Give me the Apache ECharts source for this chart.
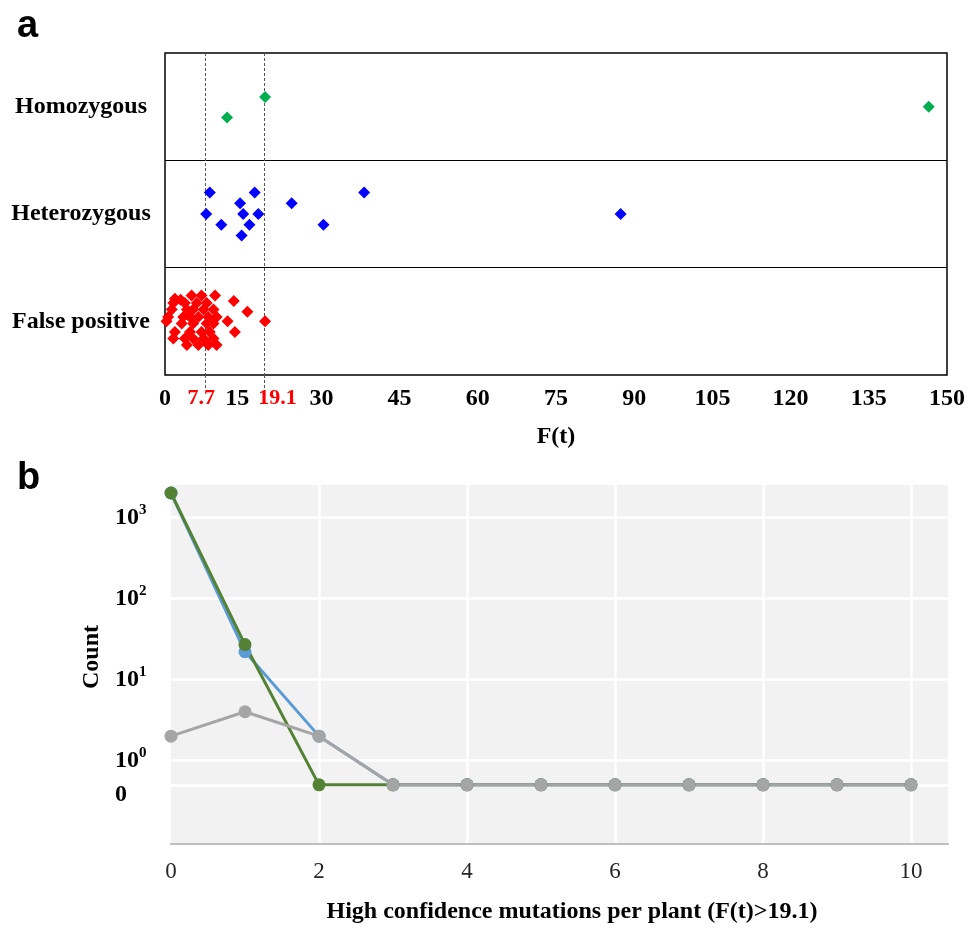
<!DOCTYPE html>
<html>
<head>
<meta charset="utf-8">
<script src="https://cdn.jsdelivr.net/npm/echarts@6/dist/echarts.min.js"></script>
<title>F(t) calls and high confidence mutations</title>
<style>html,body{margin:0;padding:0;background:#fff;}</style>
</head>
<body>
<div id="main" style="width:973px;height:929px;"></div>
<script type="text/javascript">
// panel a: [F(t), row position with jitter]
var homozygous = [[11.9, 2.40], [19.2, 2.59], [146.5, 2.50]];
var heterozygous = [
  [8.6, 1.70], [17.2, 1.70], [38.2, 1.70],
  [14.4, 1.60], [24.3, 1.60],
  [7.9, 1.50], [15.0, 1.50], [17.9, 1.50], [87.4, 1.50],
  [10.8, 1.40], [16.2, 1.40], [30.4, 1.40],
  [14.7, 1.30]
];
var falsePositive = [
  [5.1, 0.74], [7.0, 0.74], [9.6, 0.74], [1.9, 0.71], [3.0, 0.70],
  [1.6, 0.67], [3.8, 0.67], [6.1, 0.67], [8.0, 0.67],
  [1.3, 0.61], [4.2, 0.61], [5.4, 0.61], [7.4, 0.61], [9.3, 0.61],
  [0.6, 0.54], [3.5, 0.54], [4.8, 0.54], [6.4, 0.54], [8.3, 0.54], [9.9, 0.54],
  [0.3, 0.50], [3.2, 0.48], [5.4, 0.48], [8.0, 0.48], [9.3, 0.48],
  [1.9, 0.40], [4.8, 0.40], [7.0, 0.40], [8.6, 0.40],
  [1.6, 0.34], [3.8, 0.34], [5.4, 0.34], [7.4, 0.34], [9.3, 0.34],
  [4.2, 0.28], [6.4, 0.28], [8.3, 0.28], [9.9, 0.28],
  [13.2, 0.69], [15.8, 0.59], [12.0, 0.50], [13.4, 0.40], [19.2, 0.50]
];
var rowNames = ['False positive', 'Heterozygous', 'Homozygous'];
var ftTicks = [0, 7.7, 15, 19.1, 30, 45, 60, 75, 90, 105, 120, 135, 150];
var cutoffs = [7.7, 19.1];

// panel b: counts per number of high confidence mutations
var mutationsPerPlant = [0, 1, 2, 3, 4, 5, 6, 7, 8, 9, 10];
var countsBlue = [2000, 22, 2, 0, 0, 0, 0, 0, 0, 0, 0];
var countsGreen = [2000, 27, 0, 0, 0, 0, 0, 0, 0, 0, 0];
var countsGray = [2, 4, 2, 0, 0, 0, 0, 0, 0, 0, 0];
var countTicks = [-0.3, 0, 1, 2, 3]; // -0.3 is where zero is drawn

var serif = 'Liberation Serif';

function toPos(c) {
  return c > 0 ? Math.log10(c) : -0.3;
}
function linePoints(counts) {
  return mutationsPerPlant.map(function (m, i) { return [m, toPos(counts[i])]; });
}

var myChart = echarts.init(document.getElementById('main'));

var option = {
  animation: false,
  backgroundColor: '#fff',
  title: [
    { text: 'a', left: 12, top: 3, textStyle: { fontFamily: 'Liberation Sans', fontWeight: 'bold', fontSize: 38, color: '#000' } },
    { text: 'b', left: 12, top: 455, textStyle: { fontFamily: 'Liberation Sans', fontWeight: 'bold', fontSize: 38, color: '#000' } }
  ],
  grid: [
    { left: 165, right: 26, top: 53, bottom: 554, show: true, borderColor: '#000', borderWidth: 1.5, backgroundColor: '#fff', outerBoundsMode: 'none' },
    { left: 171, right: 25, top: 485, bottom: 85, show: true, borderWidth: 0, backgroundColor: '#F2F2F2', outerBoundsMode: 'none' }
  ],
  xAxis: [
    {
      gridIndex: 0, type: 'value', min: 0, max: 150,
      name: 'F(t)', nameLocation: 'middle', nameGap: 50,
      nameTextStyle: { fontFamily: serif, fontWeight: 'bold', fontSize: 24, color: '#000' },
      axisLine: { show: false, onZero: false },
      axisTick: { show: true, customValues: cutoffs, length: 13, lineStyle: { color: '#555', type: [3, 2], width: 1 } },
      splitLine: { show: true, lineStyle: { color: '#555', type: [3, 2], width: 1 } },
      axisLabel: {
        customValues: ftTicks, margin: 12, hideOverlap: false,
        fontFamily: serif, fontWeight: 'bold', fontSize: 24, color: '#000',
        formatter: function (v) {
          if (v === 7.7) return '{r77|7.7}';
          if (v === 19.1) return '{r19|19.1}';
          if (v === 15) return '{k15|15}';
          return '{k|' + v + '}';
        },
        rich: {
          k: { fontFamily: serif, fontWeight: 'bold', fontSize: 24, color: '#000' },
          k15: { fontFamily: serif, fontWeight: 'bold', fontSize: 24, color: '#000', padding: [0, 12, 0, 0] },
          r77: { fontFamily: serif, fontWeight: 'bold', fontSize: 22, color: '#FF0000', padding: [0, 8, 0, 0] },
          r19: { fontFamily: serif, fontWeight: 'bold', fontSize: 22, color: '#FF0000', padding: [0, 0, 0, 26] }
        }
      }
    },
    {
      gridIndex: 1, type: 'value', min: 0, max: 10.5,
      name: 'High confidence mutations per plant (F(t)>19.1)', nameLocation: 'middle', nameGap: 56,
      nameTextStyle: { fontFamily: serif, fontWeight: 'bold', fontSize: 24, color: '#000', padding: [0, 0, 0, 25] },
      axisLine: { show: true, onZero: false, lineStyle: { color: '#BFBFBF', width: 2 } },
      axisTick: { show: false, customValues: [2, 4, 6, 8, 10] },
      splitLine: { show: true, lineStyle: { color: '#fff', width: 2.5 } },
      axisLabel: {
        customValues: [0, 2, 4, 6, 8, 10], margin: 16,
        fontFamily: serif, fontSize: 23, color: '#262626'
      }
    }
  ],
  yAxis: [
    {
      gridIndex: 0, type: 'value', min: 0, max: 3,
      axisLine: { show: false },
      axisTick: { show: false, customValues: [1, 2] },
      splitLine: { show: true, lineStyle: { color: '#000', width: 1.2 } },
      axisLabel: {
        customValues: [0.5, 1.5, 2.5], margin: 84, align: 'center',
        fontFamily: serif, fontWeight: 'bold', fontSize: 24, color: '#000',
        formatter: function (v) { return rowNames[Math.floor(v)]; }
      }
    },
    {
      gridIndex: 1, type: 'value', min: -1.03, max: 3.4,
      name: 'Count', nameLocation: 'middle', nameGap: 64, nameRotate: 90,
      nameTextStyle: { fontFamily: serif, fontWeight: 'bold', fontSize: 24, color: '#000', padding: [0, 0, 0, 15] },
      axisLine: { show: false },
      axisTick: { show: false, customValues: countTicks },
      splitLine: { show: true, lineStyle: { color: '#fff', width: 2.5 } },
      axisLabel: {
        customValues: countTicks, margin: 56, align: 'left',
        fontFamily: serif, fontWeight: 'bold', fontSize: 24, color: '#000',
        formatter: function (v) {
          if (v < 0) return '{z|0}';
          return '{b|10}{s|' + v + '}';
        },
        rich: {
          b: { fontFamily: serif, fontWeight: 'bold', fontSize: 24, color: '#000' },
          s: { fontFamily: serif, fontWeight: 'bold', fontSize: 15, color: '#000', padding: [0, 0, 14, 0] },
          z: { fontFamily: serif, fontWeight: 'bold', fontSize: 24, color: '#000', padding: [20, 0, 0, 0] }
        }
      }
    }
  ],
  series: [
    { name: 'Homozygous', type: 'scatter', xAxisIndex: 0, yAxisIndex: 0, symbol: 'diamond', symbolSize: 12, itemStyle: { color: '#00B050', opacity: 1 }, data: homozygous },
    { name: 'Heterozygous', type: 'scatter', xAxisIndex: 0, yAxisIndex: 0, symbol: 'diamond', symbolSize: 12, itemStyle: { color: '#0000FF', opacity: 1 }, data: heterozygous },
    { name: 'False positive', type: 'scatter', xAxisIndex: 0, yAxisIndex: 0, symbol: 'diamond', symbolSize: 12, itemStyle: { color: '#FF0000', opacity: 1 }, data: falsePositive },
    { name: 'Blue', type: 'line', xAxisIndex: 1, yAxisIndex: 1, symbol: 'circle', symbolSize: 13, lineStyle: { color: '#5B9BD5', width: 3 }, itemStyle: { color: '#5B9BD5', borderWidth: 0 }, data: linePoints(countsBlue) },
    { name: 'Green', type: 'line', xAxisIndex: 1, yAxisIndex: 1, symbol: 'circle', symbolSize: 13, lineStyle: { color: '#548235', width: 3 }, itemStyle: { color: '#548235', borderWidth: 0 }, data: linePoints(countsGreen) },
    { name: 'Gray', type: 'line', xAxisIndex: 1, yAxisIndex: 1, symbol: 'circle', symbolSize: 13, lineStyle: { color: '#A5A5A5', width: 3 }, itemStyle: { color: '#A5A5A5', borderWidth: 0 }, data: linePoints(countsGray) }
  ]
};

myChart.setOption(option);
</script>
</body>
</html>
